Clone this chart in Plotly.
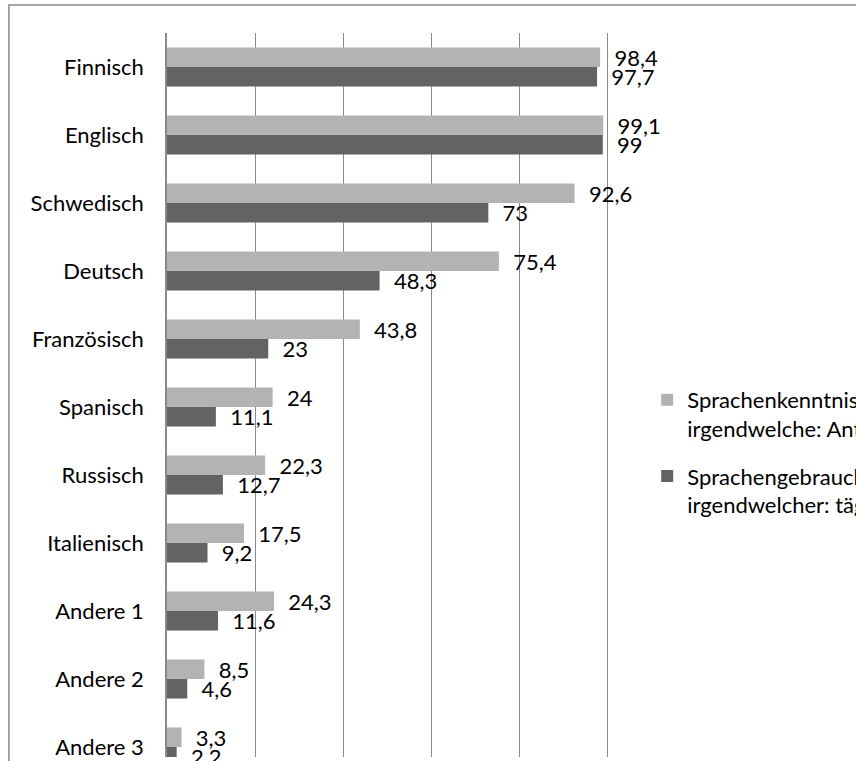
import plotly.graph_objects as go

categories = ["Finnisch", "Englisch", "Schwedisch", "Deutsch", "Französisch", "Spanisch",
              "Russisch", "Italienisch", "Andere 1", "Andere 2", "Andere 3"]
kenntnisse = [98.4, 99.1, 92.6, 75.4, 43.8, 24, 22.3, 17.5, 24.3, 8.5, 3.3]
gebrauch = [97.7, 99, 73, 48.3, 23, 11.1, 12.7, 9.2, 11.6, 4.6, 2.2]
series_names = ["Sprachenkenntnisse<br>irgendwelche: Anteil in %",
                "Sprachengebrauch<br>irgendwelcher: täglich in %"]
x_ticks = [0, 20, 40, 60, 80, 100]

FONT = "Lato"
PAD = "\u00a0\u00a0"


def fmt(v):
    return f"{v:g}".replace(".", ",")


fig = go.Figure()
for name, vals, col, grp in [(series_names[0], kenntnisse, "#B3B3B3", "a"),
                             (series_names[1], gebrauch, "#636363", "b")]:
    fig.add_trace(go.Bar(
        y=categories, x=vals, orientation="h", name=name,
        marker=dict(color=col, line=dict(width=0)),
        text=[PAD + fmt(v) for v in vals], textposition="outside",
        constraintext="none", cliponaxis=False,
        textfont=dict(family=FONT, size=22, color="#000000"),
        legendgroup=grp, hoverinfo="skip",
    ))

W, H = 856, 761
ML, MT, MB = 167, 33, 4
X_MAX = 102
PX_PER_UNIT = 4.4
PW = X_MAX * PX_PER_UNIT
MR = W - ML - PW
PH = H - MT - MB
cat_px = 68
y_bottom = -0.5 + PH / cat_px

fig.update_layout(
    width=W, height=H,
    margin=dict(l=ML, r=MR, t=MT, b=MB, autoexpand=False),
    paper_bgcolor="white", plot_bgcolor="white",
    barmode="group", bargap=0.426, bargroupgap=0,
    font=dict(family=FONT, size=22, color="#000000"),
    showlegend=True,
    legend=dict(x=(647 - ML) / PW, xanchor="left", y=(H - MB - 379) / PH, yanchor="top",
                valign="top", font=dict(family=FONT, size=22, color="#000000"),
                tracegroupgap=16, bgcolor="rgba(0,0,0,0)"),
    xaxis=dict(range=[0, X_MAX], tickvals=x_ticks, showticklabels=False, ticks="",
               showgrid=True, gridcolor="#8a8a8a", gridwidth=1.4, zeroline=False,
               showline=False, fixedrange=True),
    yaxis=dict(type="category", categoryorder="array", categoryarray=categories,
               range=[y_bottom, -0.5], showgrid=False, showline=True,
               linecolor="#8a8a8a", linewidth=1.5, ticks="", ticklabelstandoff=17,
               tickfont=dict(family=FONT, size=22, color="#000000"), zeroline=False,
               fixedrange=True),
    shapes=[dict(type="rect", xref="paper", yref="paper",
                 x0=(9 - ML) / PW, x1=3, y0=-1, y1=(H - MB - 5) / PH,
                 line=dict(color="#8a8a8a", width=1.5), fillcolor="rgba(0,0,0,0)",
                 layer="above")],
)

fig.write_html(
    "out.html",
    config={"displayModeBar": False},
    post_script="document.body.style.margin='0';document.documentElement.style.overflow='hidden';document.body.style.overflow='hidden';",
)
